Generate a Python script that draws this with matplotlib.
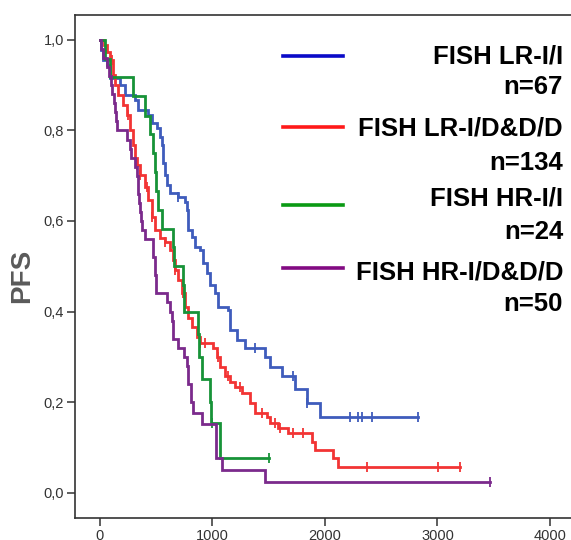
import numpy as np
import matplotlib
matplotlib.use("Agg")
import matplotlib.pyplot as plt
from matplotlib.lines import Line2D
from matplotlib.ticker import FuncFormatter

plt.rcParams['font.family'] = ['Liberation Sans', 'DejaVu Sans']

# event times (days) and survival after each event
lr_ii_t = [9, 27, 62, 89, 178, 222, 311, 338, 427, 462, 507, 533, 551, 560, 578, 596, 622,
           693, 756, 773, 782, 818, 844, 889, 916, 951, 978, 1022, 1049, 1138, 1156, 1218,
           1289, 1467, 1511, 1618, 1733, 1840, 1956]
lr_ii_s = [0.978, 0.956, 0.945, 0.916, 0.90, 0.878, 0.867, 0.845, 0.834, 0.816, 0.805, 0.786,
           0.768, 0.728, 0.701, 0.68, 0.662, 0.653, 0.642, 0.624, 0.58, 0.565, 0.543, 0.536,
           0.507, 0.485, 0.459, 0.441, 0.41, 0.404, 0.359, 0.337, 0.319, 0.30, 0.277, 0.257,
           0.229, 0.198, 0.167]
lr_ii_cens = [693, 1378, 1716, 1840, 2222, 2293, 2329, 2418, 2827]

lr_idd_t = [36, 62, 89, 116, 133, 160, 204, 240, 267, 293, 311, 329, 356, 400, 427, 462, 489,
            533, 578, 622, 649, 667, 693, 729, 756, 782, 818, 862, 889, 1004, 1040, 1067, 1111,
            1156, 1200, 1262, 1333, 1378, 1484, 1511, 1582, 1671, 1884, 1911, 2071, 2116]
lr_idd_s = [0.989, 0.973, 0.956, 0.922, 0.90, 0.878, 0.856, 0.834, 0.80, 0.768, 0.739, 0.724,
            0.701, 0.675, 0.646, 0.609, 0.58, 0.562, 0.553, 0.536, 0.514, 0.491, 0.47, 0.441,
            0.41, 0.385, 0.366, 0.344, 0.33, 0.319, 0.30, 0.278, 0.257, 0.244, 0.234, 0.22,
            0.198, 0.176, 0.167, 0.154, 0.143, 0.132, 0.112, 0.094, 0.076, 0.057]
lr_idd_cens = [107, 249, 329, 356, 418, 462, 578, 667, 738, 889, 933, 1049, 1138, 1244, 1440,
               1556, 1600, 1716, 1804, 2373, 3004, 3200]

hr_ii_t = [44, 89, 293, 400, 444, 471, 489, 498, 516, 551, 649, 658, 738, 747, 871, 880, 907,
           978, 987, 1067]
hr_ii_s = [0.958, 0.917, 0.875, 0.833, 0.792, 0.75, 0.708, 0.667, 0.625, 0.583, 0.542, 0.50,
           0.458, 0.40, 0.35, 0.30, 0.25, 0.20, 0.154, 0.077]
hr_ii_cens = [1000, 1500]

hr_idd_t = [9, 30, 62, 80, 98, 110, 125, 133, 142, 151, 240, 267, 275, 311, 329, 335, 338, 345,
            356, 362, 373, 400, 471, 475, 489, 492, 495, 498, 596, 622, 640, 649, 652, 693, 747,
            773, 782, 785, 809, 827, 907, 1031, 1084, 1467]
hr_idd_s = [0.98, 0.96, 0.94, 0.92, 0.90, 0.88, 0.86, 0.84, 0.82, 0.80, 0.78, 0.76, 0.74, 0.72,
            0.70, 0.68, 0.66, 0.64, 0.62, 0.60, 0.58, 0.56, 0.54, 0.52, 0.50, 0.48, 0.46, 0.44,
            0.42, 0.40, 0.38, 0.36, 0.34, 0.32, 0.30, 0.28, 0.26, 0.24, 0.20, 0.176, 0.152,
            0.076, 0.049, 0.024]
hr_idd_cens = [3467]

group_names = ['FISH LR-I/I', 'FISH LR-I/D&D/D', 'FISH HR-I/I', 'FISH HR-I/D&D/D']
group_n = [67, 134, 24, 50]
curve_colors = ['#3f5cbc', '#f23434', '#179338', '#7b2a8c']
key_colors = ['#0a0ac8', '#ff1a1a', '#0a9a14', '#820a82']

xticks = [0, 1000, 2000, 3000, 4000]
yticks = [0.0, 0.2, 0.4, 0.6, 0.8, 1.0]

W, H = 571, 540
fig = plt.figure(figsize=(W / 100, H / 100), dpi=100)
ax = fig.add_axes([75 / W, 1 - 518 / H, (W - 75) / W, (518 - 15) / H])

groups = [(lr_ii_t, lr_ii_s, lr_ii_cens), (lr_idd_t, lr_idd_s, lr_idd_cens),
          (hr_ii_t, hr_ii_s, hr_ii_cens), (hr_idd_t, hr_idd_s, hr_idd_cens)]

for (t, s, cens), col in zip(groups, curve_colors):
    end = max(cens[-1], t[-1])
    tt = np.r_[0, t, end]
    ss = np.r_[1.0, s, s[-1]]
    ax.step(tt, ss, where='post', color=col, lw=2.0, solid_joinstyle='miter')
    # censored observations
    idx = np.searchsorted(tt, cens, side='right') - 1
    ax.plot(cens, ss[idx], ls='none', marker='|', ms=7, mew=1.3, color=col)

ax.set_xlim(-222, 4187)
ax.set_ylim(-0.056, 1.055)
ax.set_xticks(xticks)
ax.set_yticks(yticks)
ax.yaxis.set_major_formatter(FuncFormatter(lambda v, p: f"{v:.1f}".replace('.', ',')))
ax.tick_params(direction='out', length=6, width=1.1, colors='#333333', labelsize=10.5, pad=2)
for side in ['left', 'bottom', 'top']:
    ax.spines[side].set_color('#333333')
    ax.spines[side].set_linewidth(1.2)
ax.spines['right'].set_visible(False)

fig.text(22 / W, 1 - 276 / H, 'PFS', rotation=90, ha='center', va='center',
         fontsize=20, fontweight='bold', color='#5a5a5a')

# key in the upper right
line_y = [56, 127, 205, 268]
name_y = [56, 129, 199, 272]
n_y = [87, 163, 232, 304]
for i in range(4):
    fig.add_artist(Line2D([283 / W, 343 / W], [1 - line_y[i] / H] * 2, color=key_colors[i],
                          lw=2.6, transform=fig.transFigure))
    fig.text(563 / W, 1 - name_y[i] / H, group_names[i], ha='right', va='center',
             fontsize=18.5, fontweight='bold', color='black')
    fig.text(563 / W, 1 - n_y[i] / H, f'n={group_n[i]}', ha='right', va='center',
             fontsize=18.5, fontweight='bold', color='black')

fig.savefig('out.png', dpi=100)
